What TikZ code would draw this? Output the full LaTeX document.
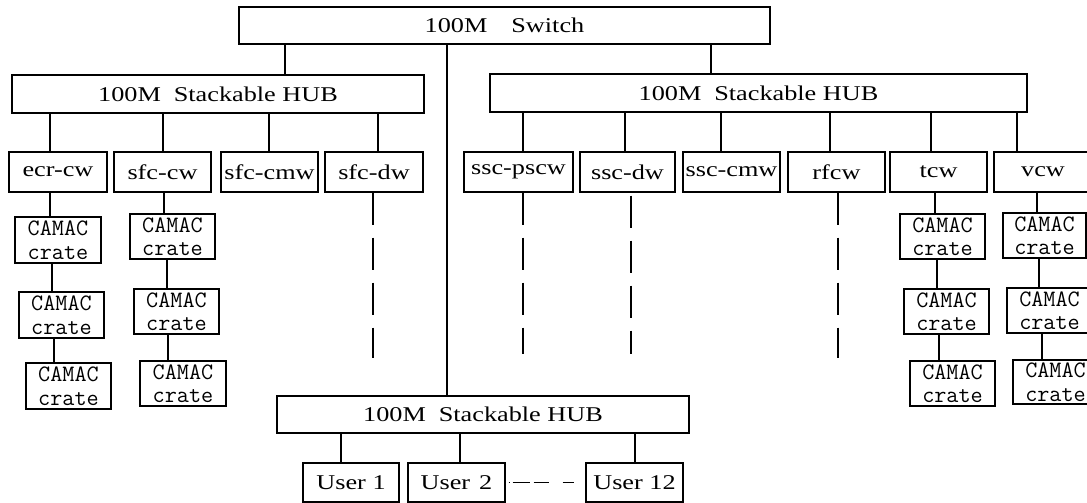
\documentclass[tikz,border=0pt]{standalone}
\usepackage{fontspec}
\setmainfont{Liberation Serif}[FakeStretch=1.25]
\begin{document}
\begin{tikzpicture}[x=1pt,y=-1pt,
  lw/.style={line width=1.4pt},
  box/.style={draw,lw,inner sep=0pt,font=\fontsize{21}{23}\selectfont},
  crate/.style={box,minimum width=85pt,minimum height=46pt,align=center,font=\ttfamily\fontsize{23.5}{23.5}\selectfont},
  ws/.style={box,minimum height=40pt},
  conn/.style={lw},
  vdash/.style={lw,dash pattern=on 32pt off 13pt}]
\useasboundingbox (0,0) rectangle (1087,503);
\clip (0,0) rectangle (1087,503);
% switch and hubs
\node[box,minimum width=531pt,minimum height=37pt] (sw) at (504.5,25.5) {100M\hspace{24pt}Switch};
\node[box,minimum width=412pt,minimum height=38pt] (hubL) at (218,94) {100M\hspace{13pt}Stackable HUB};
\node[box,minimum width=537pt,minimum height=38pt] (hubR) at (758.5,93) {100M\hspace{13pt}Stackable HUB};
\node[box,minimum width=412pt,minimum height=37pt] (hubB) at (483,414.5) {100M\hspace{13pt}Stackable HUB};
% workstations
\node[ws,minimum width=98pt] (ecr) at (58,172) {ecr-cw};
\node[ws,minimum width=97pt] (sfccw) at (162.5,172) {sfc-cw};
\node[ws,minimum width=97pt] (sfccmw) at (269.5,172) {sfc-cmw};
\node[ws,minimum width=98pt] (sfcdw) at (374,172) {sfc-dw};
\node[ws,minimum width=109pt] (sscpscw) at (518.5,172) {ssc-pscw};
\node[ws,minimum width=95pt] (sscdw) at (627.5,172) {ssc-dw};
\node[ws,minimum width=97pt] (ssccmw) at (731.5,172) {ssc-cmw};
\node[ws,minimum width=97pt] (rfcw) at (836.5,172) {rfcw};
\node[ws,minimum width=97pt] (tcw) at (938.5,172) {tcw};
\node[ws,minimum width=98pt] (vcw) at (1043,172) {vcw};
% CAMAC crates
\node[crate,minimum width=86pt] (e1) at (58,240) {CAMAC\\crate};
\node[crate] (e2) at (61.5,315) {CAMAC\\crate};
\node[crate] (e3) at (68.5,386) {CAMAC\\crate};
\node[crate,minimum height=45pt] (s1) at (172.5,236.5) {CAMAC\\crate};
\node[crate,minimum height=45pt] (s2) at (176.5,311.5) {CAMAC\\crate};
\node[crate,minimum width=86pt,minimum height=45pt] (s3) at (183,383.5) {CAMAC\\crate};
\node[crate,minimum height=45pt] (t1) at (942.5,236.5) {CAMAC\\crate};
\node[crate,minimum height=45pt] (t2) at (946.5,311.5) {CAMAC\\crate};
\node[crate,minimum height=45pt] (t3) at (952.5,383.5) {CAMAC\\crate};
\node[crate,minimum width=83pt,minimum height=45pt] (v1) at (1044.5,235.5) {CAMAC\\crate};
\node[crate,minimum height=45pt] (v2) at (1049.5,310.5) {CAMAC\\crate};
\node[crate,minimum height=44pt] (v3) at (1055.5,382) {CAMAC\\crate};
% users
\node[ws,minimum width=96pt,minimum height=39pt] (u1) at (351,482.5) {User 1};
\node[ws,minimum width=97pt,minimum height=39pt] (u2) at (456.5,482.5) {User\hspace{9pt}2};
\node[ws,minimum width=97pt,minimum height=39pt] (u12) at (634.5,482.5) {User 12};
% switch to hubs
\draw[conn] ([xshift=-219.5pt]sw.south) -- ([xshift=-219.5pt]sw.south |- hubL.north);
\draw[conn] ([xshift=206.5pt]sw.south) -- ([xshift=206.5pt]sw.south |- hubR.north);
\draw[conn] ([xshift=-57.5pt]sw.south) -- ([xshift=-57.5pt]sw.south |- hubB.north);
% left hub stubs
\draw[conn] ([xshift=-8pt]ecr.north) -- ([xshift=-8pt]ecr.north |- hubL.south);
\draw[conn] ([xshift=0.5pt]sfccw.north) -- ([xshift=0.5pt]sfccw.north |- hubL.south);
\draw[conn] ([xshift=-0.5pt]sfccmw.north) -- ([xshift=-0.5pt]sfccmw.north |- hubL.south);
\draw[conn] ([xshift=4pt]sfcdw.north) -- ([xshift=4pt]sfcdw.north |- hubL.south);
% right hub stubs
\draw[conn] ([xshift=4.5pt]sscpscw.north) -- ([xshift=4.5pt]sscpscw.north |- hubR.south);
\draw[conn] ([xshift=-2.5pt]sscdw.north) -- ([xshift=-2.5pt]sscdw.north |- hubR.south);
\draw[conn] ([xshift=-10.5pt]ssccmw.north) -- ([xshift=-10.5pt]ssccmw.north |- hubR.south);
\draw[conn] ([xshift=-6.5pt]rfcw.north) -- ([xshift=-6.5pt]rfcw.north |- hubR.south);
\draw[conn] ([xshift=-7.5pt]tcw.north) -- ([xshift=-7.5pt]tcw.north |- hubR.south);
\draw[conn] ([xshift=-26pt]vcw.north) -- ([xshift=-26pt]vcw.north |- hubR.south);
% crate chains
\draw[conn] ([xshift=-8pt]e1.north) -- ([xshift=-8pt]e1.north |- ecr.south);
\draw[conn] ([xshift=-9.5pt]e2.north) -- ([xshift=-9.5pt]e2.north |- e1.south);
\draw[conn] ([xshift=-14.5pt]e3.north) -- ([xshift=-14.5pt]e3.north |- e2.south);
\draw[conn] ([xshift=-8.5pt]s1.north) -- ([xshift=-8.5pt]s1.north |- sfccw.south);
\draw[conn] ([xshift=-9.5pt]s2.north) -- ([xshift=-9.5pt]s2.north |- s1.south);
\draw[conn] ([xshift=-15pt]s3.north) -- ([xshift=-15pt]s3.north |- s2.south);
\draw[conn] ([xshift=-7.5pt]t1.north) -- ([xshift=-7.5pt]t1.north |- tcw.south);
\draw[conn] ([xshift=-9.5pt]t2.north) -- ([xshift=-9.5pt]t2.north |- t1.south);
\draw[conn] ([xshift=-13.5pt]t3.north) -- ([xshift=-13.5pt]t3.north |- t2.south);
\draw[conn] ([xshift=-7.5pt]v1.north) -- ([xshift=-7.5pt]v1.north |- vcw.south);
\draw[conn] ([xshift=-10.5pt]v2.north) -- ([xshift=-10.5pt]v2.north |- v1.south);
\draw[conn] ([xshift=-13.5pt]v3.north) -- ([xshift=-13.5pt]v3.north |- v2.south);
% dashed continuations
\coordinate (d1) at (373,358);
\coordinate (d2) at (523,354);
\coordinate (d3) at (631,354);
\coordinate (d4) at (838,358);
\draw[vdash] (d1 |- sfcdw.south) -- (d1);
\draw[vdash] (d2 |- sscpscw.south) -- (d2);
\draw[vdash,dash phase=-3pt] (d3 |- sscdw.south) -- (d3);
\draw[vdash] (d4 |- rfcw.south) -- (d4);
% bottom hub to users
\draw[conn] ([xshift=-10pt]u1.north) -- ([xshift=-10pt]u1.north |- hubB.south);
\draw[conn] ([xshift=3.5pt]u2.north) -- ([xshift=3.5pt]u2.north |- hubB.south);
\draw[conn] ([xshift=0.5pt]u12.north) -- ([xshift=0.5pt]u12.north |- hubB.south);
\draw[lw,dash pattern=on 1pt off 3pt on 17pt off 4pt on 15pt off 14pt on 13pt off 100pt] ([xshift=3pt]u2.east) -- ([xshift=-11pt]u12.west);
\end{tikzpicture}
\end{document}
